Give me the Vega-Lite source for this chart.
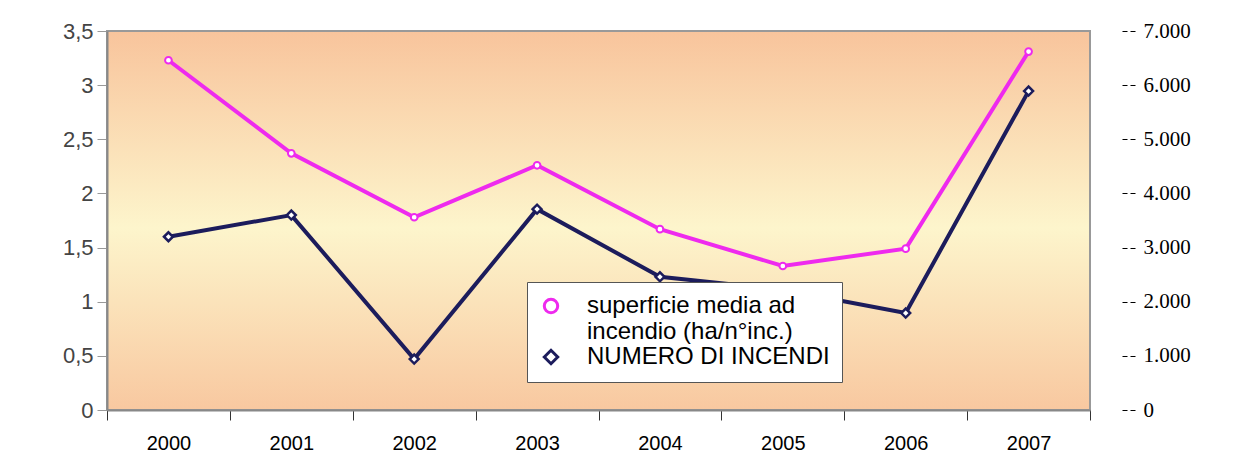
{
  "$schema": "https://vega.github.io/schema/vega-lite/v6.json",
  "width": 983,
  "height": 379,
  "autosize": {"type": "none"},
  "padding": {"left": 107, "top": 31, "right": 147, "bottom": 47},
  "background": "white",
  "config": {
    "font": "Liberation Sans",
    "view": {
      "fill": {"gradient": "linear", "x1": 0, "y1": 0, "x2": 0, "y2": 1,
        "stops": [
          {"offset": 0, "color": "#f8c49c"},
          {"offset": 0.52, "color": "#fdf5cc"},
          {"offset": 1, "color": "#f8c8a0"}
        ]},
      "stroke": "#999999",
      "strokeWidth": 2
    }
  },
  "data": {
    "values": [
      {"year": "2000", "serie": "superficie media ad incendio (ha/n°inc.)", "value": 3.23},
      {"year": "2001", "serie": "superficie media ad incendio (ha/n°inc.)", "value": 2.37},
      {"year": "2002", "serie": "superficie media ad incendio (ha/n°inc.)", "value": 1.78},
      {"year": "2003", "serie": "superficie media ad incendio (ha/n°inc.)", "value": 2.26},
      {"year": "2004", "serie": "superficie media ad incendio (ha/n°inc.)", "value": 1.67},
      {"year": "2005", "serie": "superficie media ad incendio (ha/n°inc.)", "value": 1.33},
      {"year": "2006", "serie": "superficie media ad incendio (ha/n°inc.)", "value": 1.49},
      {"year": "2007", "serie": "superficie media ad incendio (ha/n°inc.)", "value": 3.31},
      {"year": "2000", "serie": "NUMERO DI INCENDI", "value": 3200},
      {"year": "2001", "serie": "NUMERO DI INCENDI", "value": 3600},
      {"year": "2002", "serie": "NUMERO DI INCENDI", "value": 940},
      {"year": "2003", "serie": "NUMERO DI INCENDI", "value": 3710},
      {"year": "2004", "serie": "NUMERO DI INCENDI", "value": 2460},
      {"year": "2005", "serie": "NUMERO DI INCENDI", "value": 2220},
      {"year": "2006", "serie": "NUMERO DI INCENDI", "value": 1790},
      {"year": "2007", "serie": "NUMERO DI INCENDI", "value": 5890}
    ]
  },
  "encoding": {
    "x": {
      "field": "year", "type": "ordinal",
      "scale": {"type": "band", "paddingInner": 0, "paddingOuter": 0},
      "axis": {
        "title": null, "labelAngle": 0, "labelFontSize": 20, "labelColor": "black",
        "labelPadding": 13, "tickSize": 10, "tickColor": "#333333", "tickBand": "extent",
        "domainColor": "#888888", "domainWidth": 2
      }
    },
    "color": {
      "field": "serie", "type": "nominal",
      "scale": {"domain": ["superficie media ad incendio (ha/n°inc.)", "NUMERO DI INCENDI"], "range": ["#ee2aee", "#1c1c5c"]},
      "legend": {
        "title": null, "orient": "none", "legendX": 420, "legendY": 251,
        "fillColor": "white", "strokeColor": "#555555", "padding": 12,
        "labelFontSize": 24, "labelLimit": 400, "labelColor": "black", "labelOffset": 24,
        "labelExpr": "datum.label == 'NUMERO DI INCENDI' ? datum.label : ['superficie media ad', 'incendio (ha/n°inc.)']",
        "symbolSize": 180, "symbolStrokeWidth": 3, "symbolFillColor": "white", "rowPadding": 0
      }
    },
    "shape": {
      "field": "serie", "type": "nominal",
      "scale": {"domain": ["superficie media ad incendio (ha/n°inc.)", "NUMERO DI INCENDI"], "range": ["circle", "diamond"]},
      "legend": {
        "title": null, "orient": "none", "legendX": 420, "legendY": 251,
        "fillColor": "white", "strokeColor": "#555555", "padding": 12,
        "labelFontSize": 24, "labelLimit": 400, "labelColor": "black", "labelOffset": 24,
        "labelExpr": "datum.label == 'NUMERO DI INCENDI' ? datum.label : ['superficie media ad', 'incendio (ha/n°inc.)']",
        "symbolSize": 180, "symbolStrokeWidth": 3, "symbolFillColor": "white", "rowPadding": 0
      }
    }
  },
  "layer": [
    {
      "transform": [{"filter": "datum.serie != 'NUMERO DI INCENDI'"}],
      "mark": {"type": "line", "strokeWidth": 4, "point": {"filled": false, "fill": "white", "size": 45, "strokeWidth": 2}},
      "encoding": {
        "y": {
          "field": "value", "type": "quantitative",
          "scale": {"domain": [0, 3.5], "nice": false},
          "axis": {
            "title": null, "values": [0, 0.5, 1, 1.5, 2, 2.5, 3, 3.5], "grid": false,
            "labelExpr": "replace(format(datum.value, '~g'), '.', ',')",
            "labelFontSize": 22, "labelColor": "#444444", "labelPadding": 4,
            "tickSize": 10, "tickColor": "#999999", "domainColor": "#888888", "domainWidth": 2
          }
        }
      }
    },
    {
      "transform": [{"filter": "datum.serie == 'NUMERO DI INCENDI'"}],
      "mark": {"type": "line", "strokeWidth": 4, "point": {"filled": false, "fill": "white", "size": 80, "strokeWidth": 2.5}},
      "encoding": {
        "y": {
          "field": "value", "type": "quantitative",
          "scale": {"domain": [0, 7000], "nice": false},
          "axis": {
            "orient": "right", "title": null, "grid": false, "domain": false,
            "values": [0, 1000, 2000, 3000, 4000, 5000, 6000, 7000],
            "labelExpr": "replace(format(datum.value, ','), ',', '.')",
            "labelFont": "Liberation Serif", "labelFontSize": 21, "labelColor": "black",
            "offset": 32, "tickSize": 13, "tickDash": [5, 3], "tickColor": "black", "labelPadding": 8
          }
        }
      }
    }
  ],
  "resolve": {"scale": {"y": "independent"}}
}
